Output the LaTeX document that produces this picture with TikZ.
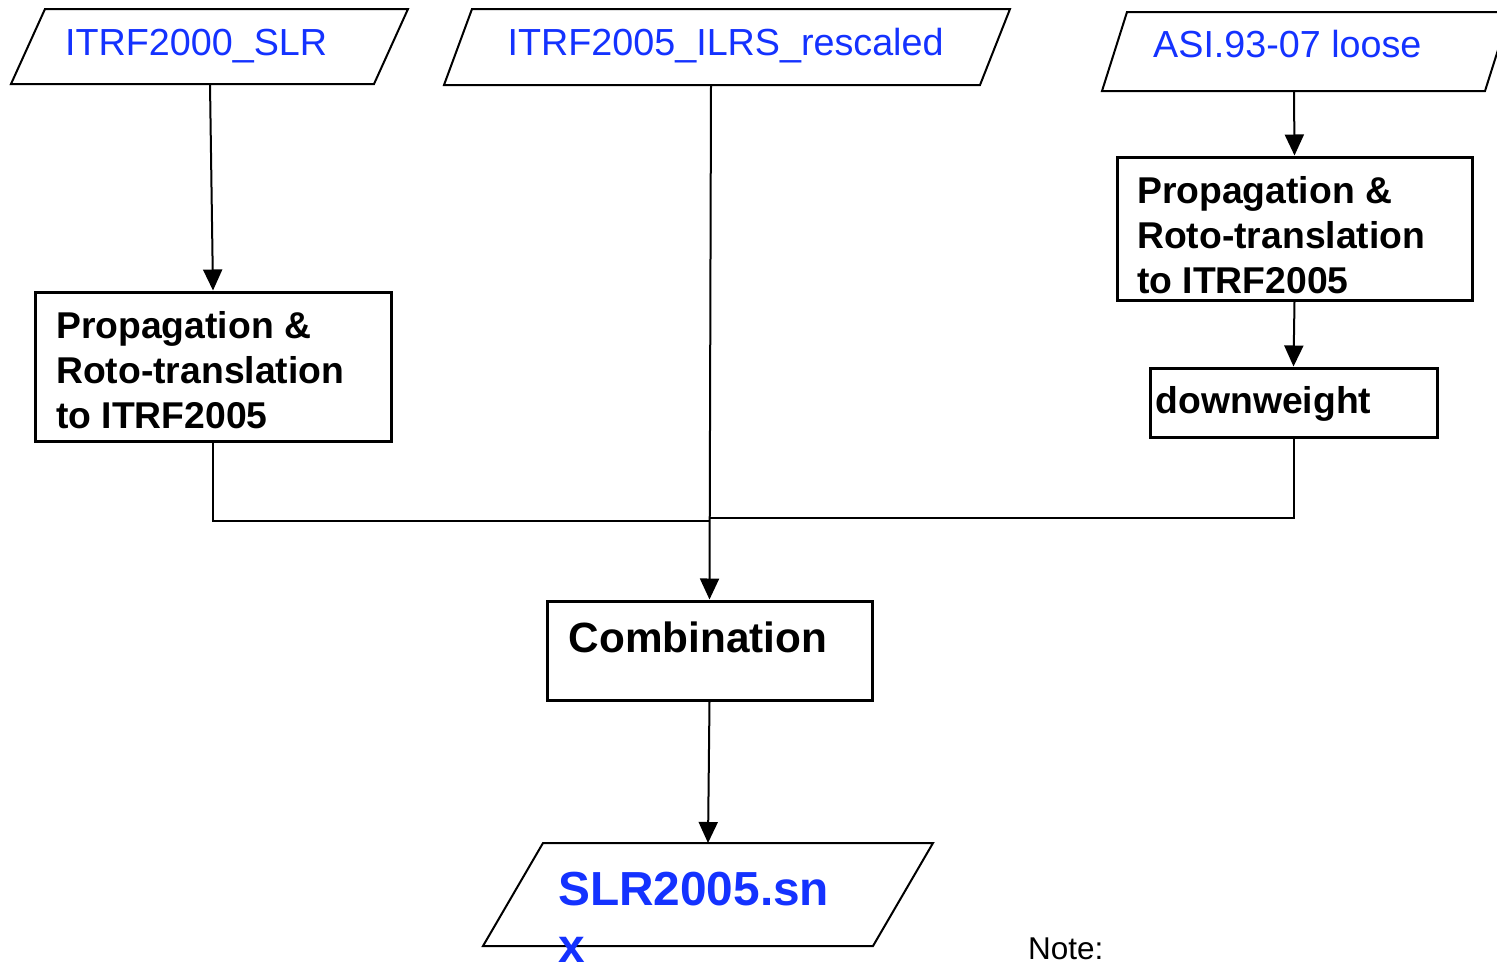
\documentclass[tikz,border=0pt]{standalone}
\usepackage{fontspec}
\setmainfont{Liberation Sans}
\usetikzlibrary{arrows.meta}
\definecolor{tblue}{RGB}{20,50,255}
\begin{document}
\begin{tikzpicture}[x=1pt,y=-1pt,
  boxstyle/.style={draw, line width=3pt, inner sep=0pt},
  para/.style={draw, line width=2pt, line join=miter},
  conn/.style={line width=2pt},
  arr/.style={line width=2pt, -{Triangle[length=21pt,width=19pt]}},
  intext/.style={inner sep=0pt, anchor=base west, text=tblue, font=\fontsize{37.7}{45}\selectfont},
  btext/.style={inner sep=0pt, anchor=base west, font=\bfseries\fontsize{37.3}{45}\selectfont},
  ctext/.style={inner sep=0pt, anchor=base west, font=\bfseries\fontsize{42.3}{50}\selectfont},
  otext/.style={inner sep=0pt, anchor=base west, text=tblue, font=\bfseries\fontsize{47.8}{57}\selectfont},
  ntext/.style={inner sep=0pt, anchor=base west, font=\fontsize{31.5}{37}\selectfont}]
\clip (0,0) rectangle (1497,964);
\fill[white] (0,0) rectangle (1497,964);

% input parallelograms
\draw[para] (45,9) -- (408,9) -- (374,84) -- (11,84) -- cycle;
\coordinate (i1b) at (210,84);
\node[intext] (i1t) at (65,55) {ITRF2000\_SLR};

\draw[para] (472,9) -- (1010,9) -- (980,85) -- (444,85) -- cycle;
\coordinate (i2b) at (711,85);
\node[intext] (i2t) at (507.5,55) {ITRF2005\_ILRS\_rescaled};

\draw[para] (1127,12) -- (1510,12) -- (1485,91) -- (1102,91) -- cycle;
\coordinate (i3b) at (1294,91);
\node[intext] (i3t) at (1153,57) {ASI.93-07 loose};

% process boxes
\node[boxstyle, minimum width=356pt, minimum height=149pt] (p1) at (213,366.5) {};
\node[btext] (p1a) at (56,338) {Propagation \&};
\node[btext] (p1b) at (56,383) {Roto-translation};
\node[btext] (p1c) at (56,428) {to ITRF2005};

\node[boxstyle, minimum width=355pt, minimum height=143pt] (p2) at (1294.5,228.5) {};
\node[btext] (p2a) at (1137,203) {Propagation \&};
\node[btext] (p2b) at (1137,248) {Roto-translation};
\node[btext] (p2c) at (1137,293) {to ITRF2005};

\node[boxstyle, minimum width=287pt, minimum height=69pt] (dw) at (1293.5,402.5) {};
\node[btext] (dwt) at (1155.5,413) {downweight};

\node[boxstyle, minimum width=325pt, minimum height=99pt] (comb) at (709.5,650.5) {};
\node[ctext] (combt) at (568.5,652) {Combination};

% output parallelogram
\draw[para] (543,843) -- (933,843) -- (873,946) -- (483,946) -- cycle;
\coordinate (o1t) at (708,843);
\node[otext] (o1a) at (558,905) {SLR2005.sn};
\node[otext] (o1b) at (558,962) {x};

\node[ntext] (note) at (1028,959) {Note:};

% connectors
\coordinate (j1) at (710,521);
\coordinate (j2) at (710,518);
\draw[arr] (i1b) -- (p1.north);
\draw[conn] (p1.south) |- (j1);
\draw[arr] (i2b) -- (comb.north);
\draw[arr] (i3b) -- (p2.north);
\draw[arr] (p2.south) -- (dw.north);
\draw[conn] (dw.south) |- (j2);
\draw[arr] (comb.south) -- (o1t);
\end{tikzpicture}
\end{document}
